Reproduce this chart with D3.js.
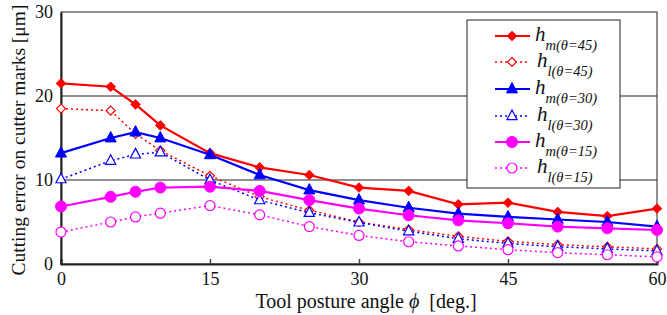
<!DOCTYPE html>
<html>
<head>
<meta charset="utf-8">
<script src="https://cdn.jsdelivr.net/npm/d3@7"></script>
<style>
  html, body { margin: 0; padding: 0; background: #fff; }
  svg { display: block; }
  svg text { font-family: "Liberation Serif", "DejaVu Serif", serif; }
</style>
</head>
<body>
<div id="chart"></div>
<script>
(function () {
  'use strict';

  const SERIF = '"Liberation Serif", "DejaVu Serif", serif';

  const angles = [0, 5, 7.5, 10, 15, 20, 25, 30, 35, 40, 45, 50, 55, 60];

  const hm45 = [21.5, 21.1, 19.0, 16.5, 13.2, 11.5, 10.6, 9.1, 8.7, 7.1, 7.3, 6.2, 5.7, 6.6];
  const hl45 = [18.5, 18.25, 15.5, 13.5, 10.5, 8.0, 6.4, 5.0, 4.1, 3.3, 2.7, 2.3, 2.05, 1.8];
  const hm30 = [13.2, 15.0, 15.7, 15.0, 13.0, 10.6, 8.8, 7.6, 6.7, 6.0, 5.6, 5.3, 5.0, 4.45];
  const hl30 = [10.1, 12.3, 13.05, 13.3, 10.0, 7.6, 6.1, 4.95, 3.9, 3.0, 2.45, 2.05, 1.8, 1.55];
  const hm15 = [6.85, 8.0, 8.6, 9.1, 9.2, 8.7, 7.6, 6.6, 5.8, 5.2, 4.85, 4.45, 4.25, 4.05];
  const hl15 = [3.8, 5.0, 5.6, 6.05, 6.95, 5.85, 4.45, 3.4, 2.65, 2.15, 1.7, 1.35, 1.1, 0.85];

  const xTicks = [0, 15, 30, 45, 60];
  const yTicks = [0, 10, 20, 30];

  const series = [
    { sub: 'm(θ=45)', values: hm45, color: '#ff0000', dash: null, shape: 'diamond', filled: true },
    { sub: 'l(θ=45)', values: hl45, color: '#ff0000', dash: '2,3', shape: 'diamond', filled: false },
    { sub: 'm(θ=30)', values: hm30, color: '#0000ff', dash: null, shape: 'triangle', filled: true },
    { sub: 'l(θ=30)', values: hl30, color: '#0000ff', dash: '2,3', shape: 'triangle', filled: false },
    { sub: 'm(θ=15)', values: hm15, color: '#ff00ff', dash: null, shape: 'circle', filled: true },
    { sub: 'l(θ=15)', values: hl15, color: '#ff00ff', dash: '2,3', shape: 'circle', filled: false },
  ];

  const W = 667, H = 315;
  const M = { left: 61, right: 10, top: 12, bottom: 51 };

  const svg = d3.select('#chart').append('svg')
    .attr('width', W).attr('height', H);

  const x = d3.scaleLinear().domain([0, 60]).range([M.left, W - M.right]);
  const y = d3.scaleLinear().domain([0, 30]).range([H - M.bottom, M.top]);

  // gridlines
  svg.append('g')
    .selectAll('line')
    .data([10, 20])
    .join('line')
    .attr('x1', x(0)).attr('x2', x(60))
    .attr('y1', d => y(d)).attr('y2', d => y(d))
    .attr('stroke', '#222').attr('stroke-width', 1);

  // frame
  svg.append('rect')
    .attr('x', x(0)).attr('y', y(30))
    .attr('width', x(60) - x(0)).attr('height', y(0) - y(30))
    .attr('fill', 'none').attr('stroke', '#222').attr('stroke-width', 1);

  // axes
  const xAxis = svg.append('g')
    .attr('transform', `translate(0,${y(0)})`)
    .call(d3.axisBottom(x).tickValues(xTicks).tickSize(-5).tickPadding(8));
  xAxis.attr('font-family', SERIF);
  xAxis.select('.domain').attr('stroke', '#222').attr('stroke-width', 2);
  xAxis.selectAll('.tick line').attr('stroke', '#444').attr('stroke-width', 1.5);
  xAxis.selectAll('.tick text').attr('font-size', 18).attr('fill', '#111');

  const yAxis = svg.append('g')
    .attr('transform', `translate(${x(0)},0)`)
    .call(d3.axisLeft(y).tickValues(yTicks).tickSize(0).tickPadding(8));
  yAxis.attr('font-family', SERIF);
  yAxis.select('.domain').attr('stroke', '#222').attr('stroke-width', 2);
  yAxis.selectAll('.tick text').attr('font-size', 18).attr('fill', '#111');

  // axis titles
  svg.append('text')
    .attr('transform', `translate(21,${(y(0) + y(30)) / 2 + 2}) rotate(-90)`)
    .attr('text-anchor', 'middle')
    .attr('dominant-baseline', 'middle')
    .attr('font-family', SERIF)
    .attr('font-size', 19.5).attr('fill', '#111')
    .text('Cutting error on cutter marks [μm]');

  const xt = svg.append('text')
    .attr('x', 366).attr('y', 308)
    .attr('text-anchor', 'middle')
    .attr('font-family', SERIF)
    .attr('font-size', 20).attr('fill', '#111');
  xt.append('tspan').text('Tool posture angle ');
  xt.append('tspan').attr('font-style', 'italic').text('ϕ');
  xt.append('tspan').attr('xml:space', 'preserve').text('  [deg.]');

  // marker helper
  function marker(g, s) {
    if (s.shape === 'circle') {
      g.append('circle').attr('r', s.filled ? 5.5 : 5);
    } else if (s.shape === 'diamond') {
      const r = s.filled ? 4.8 : 4.5;
      g.append('path').attr('d', `M0,${-r}L${r},0L0,${r}L${-r},0Z`);
    } else {
      const r = s.filled ? 6.5 : 6;
      g.append('path').attr('d', `M0,${-r}L${r * 0.85},${r * 0.6}L${-r * 0.85},${r * 0.6}Z`);
    }
    g.selectAll('circle,path')
      .attr('fill', s.filled ? s.color : '#fff')
      .attr('stroke', s.color)
      .attr('stroke-width', s.filled ? 1 : 1.2);
  }

  const line = d3.line().x((d, i) => x(angles[i])).y(d => y(d));

  series.forEach(s => {
    const g = svg.append('g');
    g.append('path')
      .attr('d', line(s.values))
      .attr('fill', 'none')
      .attr('stroke', s.color)
      .attr('stroke-width', s.dash ? 1.5 : 2.2)
      .attr('stroke-dasharray', s.dash);
    s.values.forEach((v, i) => {
      const mg = g.append('g').attr('transform', `translate(${x(angles[i])},${y(v)})`);
      marker(mg, s);
    });
  });

  // legend
  const lg = svg.append('g');
  lg.append('rect')
    .attr('x', 467).attr('y', 20).attr('width', 153).attr('height', 168)
    .attr('fill', '#fff').attr('stroke', '#222').attr('stroke-width', 1);

  const rowY = [36, 62, 89, 116, 142, 168];
  series.forEach((s, i) => {
    const ry = rowY[i];
    lg.append('line')
      .attr('x1', 495).attr('x2', 530).attr('y1', ry).attr('y2', ry)
      .attr('stroke', s.color)
      .attr('stroke-width', s.dash ? 1.5 : 2.2)
      .attr('stroke-dasharray', s.dash);
    const mg = lg.append('g').attr('transform', `translate(512,${ry})`);
    marker(mg, s);
    const t = lg.append('text')
      .attr('x', s.dash ? 537 : 535).attr('y', ry + 5)
      .attr('font-family', SERIF)
      .attr('font-style', 'italic').attr('fill', '#111');
    t.append('tspan').attr('font-size', 21).text('h');
    t.append('tspan').attr('font-size', 14.5).attr('dy', 9).text(s.sub);
  });
})();
</script>
</body>
</html>
